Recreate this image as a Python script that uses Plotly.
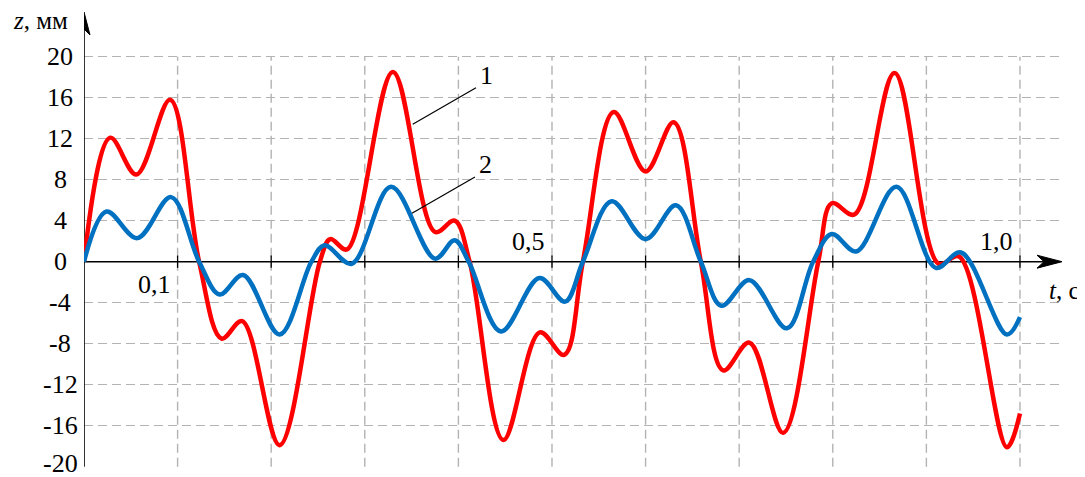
import plotly.graph_objects as go

# ---------------- data ----------------
t_red = [0, 0.028, 0.056, 0.092, 0.123, 0.147, 0.169, 0.209, 0.252, 0.263, 0.281,
         0.330, 0.375, 0.396, 0.412, 0.448, 0.487, 0.513, 0.533, 0.566, 0.600, 0.630,
         0.659, 0.683, 0.711, 0.747, 0.7845, 0.799, 0.823, 0.866, 0.913, 0.935, 0.986, 1.0]
z_red = [0, 12.1, 8.5, 15.8, 0, -7.5, -5.8, -17.9, 0, 2.2, 1.2,
         18.5, 2.9, 4.0, 0, -17.4, -6.9, -9.1, 0, 14.6, 8.8, 13.6,
         0, -10.6, -7.9, -16.7, 0, 5.7, 4.6, 18.4, -0.2, 0.5, -18.1, -14.8]

t_blue = [0, 0.024, 0.057, 0.093, 0.123, 0.145, 0.170, 0.209, 0.243, 0.257, 0.286,
          0.328, 0.375, 0.396, 0.411, 0.4455, 0.4865, 0.514, 0.533, 0.5637, 0.600, 0.6325,
          0.659, 0.681, 0.711, 0.751, 0.779, 0.799, 0.825, 0.868, 0.910, 0.937, 0.986, 1.0]
z_blue = [0, 4.9, 2.3, 6.3, 0, -3.2, -1.3, -7.1, 0, 1.6, -0.2,
          7.3, 0.3, 2.1, 0, -6.8, -1.6, -3.9, 0, 5.9, 2.2, 5.5,
          0, -4.3, -1.8, -6.5, 0, 2.7, 1.0, 7.3, -0.6, 0.9, -7.1, -5.4]

x_grid = [0.1, 0.2, 0.3, 0.4, 0.5, 0.6, 0.7, 0.8, 0.9, 1.0]
x_labels = {0.1: "0,1", 0.5: "0,5", 1.0: "1,0"}
y_ticks = [-20, -16, -12, -8, -4, 0, 4, 8, 12, 16, 20]
y_labels = ["-20", "-16", "-12", "-8", "-4", "0", "4", "8", "12", "16", "20"]

# ---------------- layout constants ----------------
X_END = 1.0449
Y_TOP = 24.36
Y_BOT = -20.03
FONT = "Liberation Serif, serif"
FS = 26
GRID = "#b3b3b3"

fig = go.Figure()
fig.add_trace(go.Scatter(x=t_red, y=z_red, mode="lines",
                         line=dict(color="#ff0000", width=4.5, shape="spline", smoothing=1.0),
                         hoverinfo="skip", showlegend=False))
fig.add_trace(go.Scatter(x=t_blue, y=z_blue, mode="lines",
                         line=dict(color="#0070c0", width=4.5, shape="spline", smoothing=1.0),
                         hoverinfo="skip", showlegend=False))

shapes = []
for xv in x_grid:
    shapes.append(dict(type="line", x0=xv, x1=xv, y0=-20, y1=20, xref="x", yref="y",
                       line=dict(color=GRID, width=1.4, dash="9px,5px"), layer="below"))
    shapes.append(dict(type="line", x0=xv, x1=xv, y0=-0.6, y1=0.6, xref="x", yref="y",
                       line=dict(color="black", width=1.3), layer="between"))
# axes
shapes.append(dict(type="line", x0=0, x1=X_END - 0.01, y0=0, y1=0, xref="x", yref="y",
                   line=dict(color="black", width=1.6), layer="between"))
shapes.append(dict(type="line", x0=0, x1=0, y0=-20, y1=Y_TOP - 1.5, xref="x", yref="y",
                   line=dict(color="black", width=1.6), layer="between"))
# arrowheads
shapes.append(dict(type="path", xref="x", yref="y", xsizemode="pixel", ysizemode="pixel",
                   xanchor=X_END, yanchor=0, path="M0,0 L-25,6.5 L-18,0 L-25,-6.5 Z",
                   fillcolor="black", line=dict(color="black", width=1), layer="above"))
shapes.append(dict(type="path", xref="x", yref="y", xsizemode="pixel", ysizemode="pixel",
                   xanchor=0, yanchor=Y_TOP, path="M0,0 L-6,-23 L0,-17 L6,-23 Z",
                   fillcolor="black", line=dict(color="black", width=1), layer="above"))
# leader lines
shapes.append(dict(type="line", x0=0.3512, y0=13.4, x1=0.4188, y1=16.98, xref="x", yref="y",
                   line=dict(color="black", width=1.2)))
shapes.append(dict(type="line", x0=0.3504, y0=4.72, x1=0.4177, y1=8.26, xref="x", yref="y",
                   line=dict(color="black", width=1.2)))

ann = []
for yv, lab in zip(y_ticks, y_labels):
    ann.append(dict(x=0, y=yv, xref="x", yref="y", text=lab, showarrow=False,
                    xanchor="center", yanchor="middle", xshift=-24,
                    yshift=3 if yv == -20 else 0,
                    font=dict(family=FONT, size=FS, color="black")))
for xv, lab in x_labels.items():
    below = xv < 0.2
    ann.append(dict(x=xv, y=0, xref="x", yref="y", text=lab, showarrow=False,
                    xanchor="right", yanchor="top" if below else "bottom",
                    xshift=-5, yshift=-6 if below else 4,
                    font=dict(family=FONT, size=FS, color="black")))
ann.append(dict(x=0, y=Y_TOP, xref="x", yref="y", text="<i>z</i>, мм", showarrow=False,
                xanchor="right", yanchor="middle", xshift=-14, yshift=-8,
                font=dict(family=FONT, size=25, color="black")))
ann.append(dict(x=X_END, y=0, xref="x", yref="y", text="<i>t</i>, с", showarrow=False,
                xanchor="left", yanchor="top", xshift=-15, yshift=-13,
                font=dict(family=FONT, size=25, color="black")))
ann.append(dict(x=0.4188, y=16.98, xref="x", yref="y", text="1", showarrow=False,
                xanchor="left", yanchor="bottom", xshift=2, yshift=-4,
                font=dict(family=FONT, size=FS, color="black")))
ann.append(dict(x=0.4177, y=8.26, xref="x", yref="y", text="2", showarrow=False,
                xanchor="left", yanchor="bottom", xshift=2, yshift=-4,
                font=dict(family=FONT, size=FS, color="black")))

# the page adds an 8px body margin, so the figure is 8px smaller in each direction
fig.update_layout(
    width=1077, height=469,
    margin=dict(l=76, r=23, t=4, b=10),
    paper_bgcolor="white", plot_bgcolor="white",
    font=dict(family=FONT, color="black"),
    shapes=shapes, annotations=ann,
    xaxis=dict(range=[0, X_END], showgrid=False, zeroline=False, showline=False,
               showticklabels=False, ticks=""),
    yaxis=dict(range=[Y_BOT, Y_TOP], tickvals=y_ticks, showgrid=True, gridcolor=GRID,
               gridwidth=1.4, griddash="9px,5px", zeroline=False, showline=False,
               showticklabels=False, ticks=""),
)
fig.write_html("out.html")
